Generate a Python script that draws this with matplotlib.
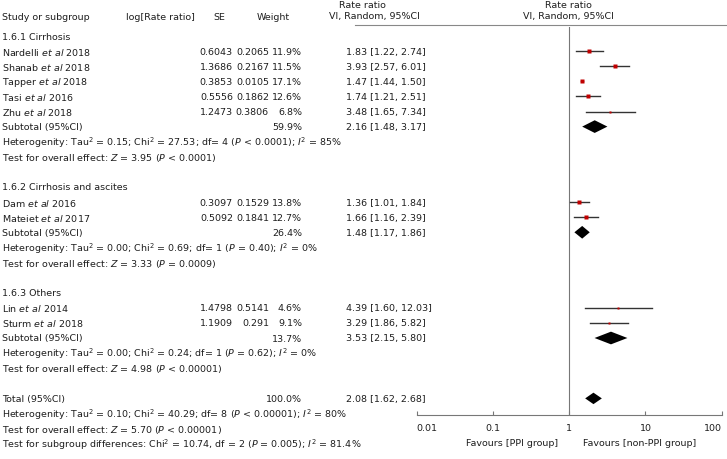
import matplotlib.pyplot as plt
from matplotlib.patches import Polygon

group_names = ['1.6.1 Cirrhosis', '1.6.2 Cirrhosis and ascites', '1.6.3 Others']
group_sizes = [5, 2, 2]

studies = [r'Nardelli $\it{et\ al}$ 2018', r'Shanab $\it{et\ al}$ 2018', r'Tapper $\it{et\ al}$ 2018',
           r'Tasi $\it{et\ al}$ 2016', r'Zhu $\it{et\ al}$ 2018',
           r'Dam $\it{et\ al}$ 2016', r'Mateiet $\it{et\ al}$ 2017',
           r'Lin $\it{et\ al}$ 2014', r'Sturm $\it{et\ al}$ 2018']
log_rr = ['0.6043', '1.3686', '0.3853', '0.5556', '1.2473', '0.3097', '0.5092', '1.4798', '1.1909']
se = ['0.2065', '0.2167', '0.0105', '0.1862', '0.3806', '0.1529', '0.1841', '0.5141', '0.291']
weight = [11.9, 11.5, 17.1, 12.6, 6.8, 13.8, 12.7, 4.6, 9.1]
rr = [1.83, 3.93, 1.47, 1.74, 3.48, 1.36, 1.66, 4.39, 3.29]
lo = [1.22, 2.57, 1.44, 1.21, 1.65, 1.01, 1.16, 1.60, 1.86]
hi = [2.74, 6.01, 1.50, 2.51, 7.34, 1.84, 2.39, 12.03, 5.82]

sub_weight = [59.9, 26.4, 13.7]
sub_rr = [2.16, 1.48, 3.53]
sub_lo = [1.48, 1.17, 2.15]
sub_hi = [3.17, 1.86, 5.80]
sub_het = [r'Heterogenity: Tau$^2$ = 0.15; Chi$^2$ = 27.53; df= 4 ($P$ < 0.0001); $I^2$ = 85%',
           r'Heterogenity: Tau$^2$ = 0.00; Chi$^2$ = 0.69; df= 1 ($P$ = 0.40); $I^2$ = 0%',
           r'Heterogenity: Tau$^2$ = 0.00; Chi$^2$ = 0.24; df= 1 ($P$ = 0.62); $I^2$ = 0%']
sub_test = [r'Test for overall effect: $Z$ = 3.95 ($P$ < 0.0001)',
            r'Test for overall effect: $Z$ = 3.33 ($P$ = 0.0009)',
            r'Test for overall effect: $Z$ = 4.98 ($P$ < 0.00001)']

total_weight = 100.0
total_rr, total_lo, total_hi = 2.08, 1.62, 2.68
total_lines = [r'Heterogenity: Tau$^2$ = 0.10; Chi$^2$ = 40.29; df= 8 ($P$ < 0.00001); $I^2$ = 80%',
               r'Test for overall effect: $Z$ = 5.70 ($P$ < 0.00001)',
               r'Test for subgroup differences: Chi$^2$ = 10.74, df = 2 ($P$ = 0.005); $I^2$ = 81.4%']

ticks = [0.01, 0.1, 1, 10, 100]
tick_labels = ['0.01', '0.1', '1', '10', '100']

fs = 6.8
tc = '#1e1e1e'
red = '#c00000'

W, H = 727, 460
y0, dy = 37, 15.1
fig = plt.figure(figsize=(W / 100, H / 100), dpi=100)

# forest panel
ax = fig.add_axes([416.7 / W, (H - 415.7) / H, 305 / W, (415.7 - 28) / H])
ax.set_xscale('log')
ax.set_xlim(0.01, 100)
ax.set_ylim((415.7 - y0) / dy, (28 - y0) / dy)
ax.patch.set_visible(False)
for s in ['left', 'right', 'top']:
    ax.spines[s].set_visible(False)
ax.spines['bottom'].set_color('#777777')
ax.spines['bottom'].set_linewidth(0.8)
ax.set_yticks([])
ax.set_xticks(ticks)
ax.set_xticklabels(tick_labels)
ax.minorticks_off()
ax.tick_params(axis='x', direction='in', length=3, width=0.8, color='#777777',
               labelsize=fs, labelcolor=tc, pad=6)
labs = ax.get_xticklabels()
labs[0].set_ha('left')
labs[-1].set_ha('right')
ax.axvline(1, color='#777777', lw=0.8)

# text overlay in pixel x / row y
tx = fig.add_axes([0, 0, 1, 1])
tx.set_xlim(0, W)
tx.set_ylim((H - y0) / dy, -y0 / dy)
tx.axis('off')


def put(x, y, s, ha='left', **kw):
    tx.text(x, y, s, ha=ha, va='center', fontsize=fs, color=tc, **kw)


def diamond(est, l, h, y, hh=0.42):
    ax.add_patch(Polygon([(l, y), (est, y - hh), (h, y), (est, y + hh)],
                         closed=True, color='black', lw=0))


hy1, hy2 = (6 - y0) / dy, (17 - y0) / dy
put(2, (18 - y0) / dy, 'Study or subgroup')
put(160, (18 - y0) / dy, 'log[Rate ratio]', ha='center')
put(219, (18 - y0) / dy, 'SE', ha='center')
put(273, (18 - y0) / dy, 'Weight', ha='center')
put(362, hy1, 'Rate ratio', ha='center')
put(374, hy2, 'VI, Random, 95%CI', ha='center')
put(568, hy1, 'Rate ratio', ha='center')
put(568, hy2, 'VI, Random, 95%CI', ha='center')
tx.plot([355, W], [(26 - y0) / dy] * 2, color='#888888', lw=0.8)

row = 0
k = 0
for g in range(len(group_names)):
    put(2, row, group_names[g])
    row += 1
    for i in range(k, k + group_sizes[g]):
        put(2, row, studies[i])
        put(233, row, log_rr[i], ha='right')
        put(269, row, se[i], ha='right')
        put(302, row, f'{weight[i]:.1f}%', ha='right')
        put(346, row, f'{rr[i]:.2f} [{lo[i]:.2f}, {hi[i]:.2f}]')
        ax.plot([lo[i], hi[i]], [row, row], color='#333333', lw=1.0)
        ax.plot(rr[i], row, 's', color=red, mec='none', ms=max(2.6, 0.28 * weight[i]) * 0.72)
        row += 1
    k += group_sizes[g]
    put(2, row, 'Subtotal (95%CI)')
    put(302, row, f'{sub_weight[g]:.1f}%', ha='right')
    put(346, row, f'{sub_rr[g]:.2f} [{sub_lo[g]:.2f}, {sub_hi[g]:.2f}]')
    diamond(sub_rr[g], sub_lo[g], sub_hi[g], row)
    row += 1
    put(2, row, sub_het[g])
    row += 1
    put(2, row, sub_test[g])
    row += 2

put(2, row, 'Total (95%CI)')
put(302, row, f'{total_weight:.1f}%', ha='right')
put(346, row, f'{total_rr:.2f} [{total_lo:.2f}, {total_hi:.2f}]')
diamond(total_rr, total_lo, total_hi, row, hh=0.38)
for line in total_lines:
    row += 1
    put(2, row, line)

put(558, (444 - y0) / dy, 'Favours [PPI group]', ha='right')
put(583, (444 - y0) / dy, 'Favours [non-PPI group]')

fig.savefig('out.png', dpi=100)
